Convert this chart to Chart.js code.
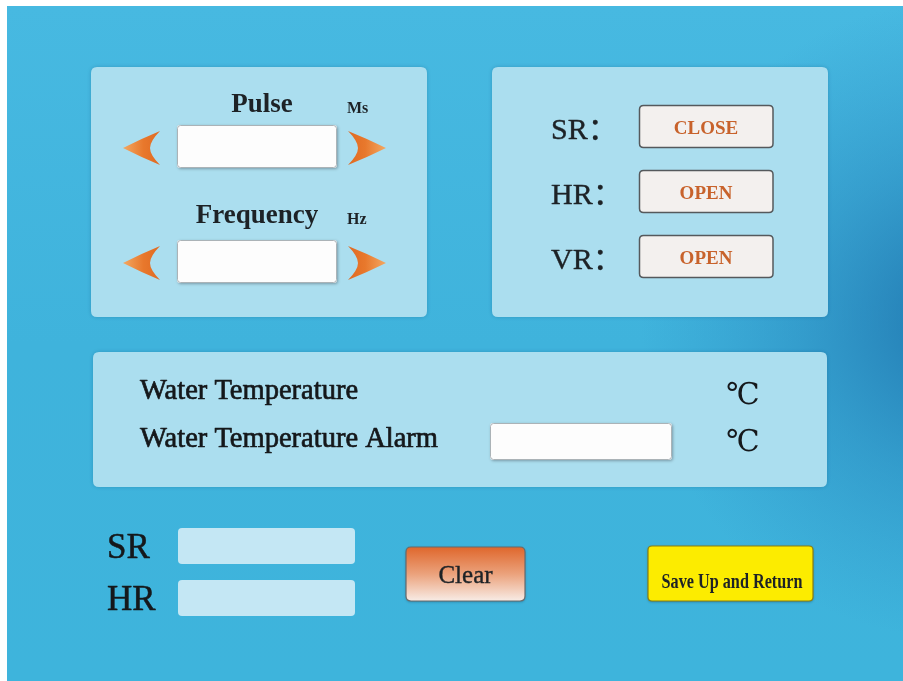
<!DOCTYPE html>
<html>
<head>
<meta charset="utf-8">
<script src="https://cdn.jsdelivr.net/npm/chart.js@4/dist/chart.umd.min.js"></script>
<style>
html,body{margin:0;padding:0;background:#fff;overflow:hidden;}
canvas{display:block;}
</style>
</head>
<body>
<canvas id="c" width="903" height="681"></canvas>
<script>
// ---- content (text only) ----
const pulseLabels = ['Pulse', 'Frequency'];
const pulseUnits = ['Ms', 'Hz'];
const switchNames = ['SR：', 'HR：', 'VR：'];
const switchStates = ['CLOSE', 'OPEN', 'OPEN'];
const tempLabels = ['Water Temperature', 'Water Temperature Alarm'];
const tempUnits = ['℃', '℃'];
const readoutLabels = ['SR', 'HR'];
const actionLabels = ['Clear', 'Save Up and Return'];

const SERIF = "'Liberation Serif','Times New Roman','Noto Sans CJK SC',serif";

function rr(ctx, x, y, w, h, r) {
  ctx.beginPath();
  ctx.moveTo(x + r, y);
  ctx.lineTo(x + w - r, y);
  ctx.quadraticCurveTo(x + w, y, x + w, y + r);
  ctx.lineTo(x + w, y + h - r);
  ctx.quadraticCurveTo(x + w, y + h, x + w - r, y + h);
  ctx.lineTo(x + r, y + h);
  ctx.quadraticCurveTo(x, y + h, x, y + h - r);
  ctx.lineTo(x, y + r);
  ctx.quadraticCurveTo(x, y, x + r, y);
  ctx.closePath();
}

function heavyText(ctx, txt, x, y, lw, maxW) {
  if (maxW) ctx.fillText(txt, x, y, maxW); else ctx.fillText(txt, x, y);
  ctx.lineWidth = lw;
  ctx.strokeStyle = ctx.fillStyle;
  ctx.lineJoin = 'round';
  if (maxW) ctx.strokeText(txt, x, y, maxW); else ctx.strokeText(txt, x, y);
}

const uiPlugin = {
  id: 'panelUI',
  beforeDraw(chart) {
    const ctx = chart.ctx;
    const sx = chart.scales.x, sy = chart.scales.y;
    const X = v => sx.getPixelForValue(v);
    const Y = v => sy.getPixelForValue(v);
    ctx.save();

    // page background
    ctx.fillStyle = '#ffffff';
    ctx.fillRect(0, 0, chart.width, chart.height);
    const bx = X(7), by = Y(6), bw = X(903) - X(7), bh = Y(681) - Y(6);
    let g = ctx.createLinearGradient(0, by, 0, by + bh);
    g.addColorStop(0, '#47b9e1');
    g.addColorStop(0.5, '#3fb3dc');
    g.addColorStop(1, '#3eb4dc');
    ctx.fillStyle = g;
    ctx.fillRect(bx, by, bw, bh);
    let rg = ctx.createRadialGradient(X(960), Y(320), 0, X(960), Y(320), 320);
    rg.addColorStop(0, 'rgba(25,105,165,0.8)');
    rg.addColorStop(0.5, 'rgba(30,115,175,0.35)');
    rg.addColorStop(1, 'rgba(40,130,190,0)');
    ctx.fillStyle = rg;
    ctx.fillRect(bx, by, bw, bh);

    // panels
    function panel(x0, y0, x1, y1) {
      ctx.save();
      ctx.shadowColor = 'rgba(0,60,100,0.25)';
      ctx.shadowBlur = 4;
      ctx.fillStyle = '#abdeef';
      rr(ctx, X(x0), Y(y0), X(x1) - X(x0), Y(y1) - Y(y0), 6);
      ctx.fill();
      ctx.restore();
    }
    panel(91, 67, 427, 317);
    panel(492, 67, 828, 317);
    panel(93, 352, 827, 487);

    // white input box
    function inputBox(x0, y0, x1, y1) {
      ctx.save();
      ctx.shadowColor = 'rgba(60,70,80,0.45)';
      ctx.shadowBlur = 3;
      ctx.shadowOffsetX = 1;
      ctx.shadowOffsetY = 1;
      ctx.fillStyle = '#fdfdfd';
      rr(ctx, X(x0), Y(y0), X(x1) - X(x0), Y(y1) - Y(y0), 3);
      ctx.fill();
      ctx.restore();
      ctx.strokeStyle = 'rgba(150,160,165,0.8)';
      ctx.lineWidth = 1;
      rr(ctx, X(x0) + 0.5, Y(y0) + 0.5, X(x1) - X(x0) - 1, Y(y1) - Y(y0) - 1, 3);
      ctx.stroke();
    }

    function arrow(tipX, midY, backX, half, dir) {
      const notch = backX - dir * 10;
      const gr = ctx.createLinearGradient(X(tipX), 0, X(backX), 0);
      gr.addColorStop(0, '#f3a862');
      gr.addColorStop(0.55, '#e8782c');
      gr.addColorStop(1, '#e06a22');
      ctx.fillStyle = gr;
      ctx.beginPath();
      ctx.moveTo(X(tipX), Y(midY));
      ctx.quadraticCurveTo(X((tipX + backX) / 2), Y(midY - half * 0.55), X(backX), Y(midY - half));
      ctx.quadraticCurveTo(X(notch), Y(midY - half * 0.4), X(notch), Y(midY));
      ctx.quadraticCurveTo(X(notch), Y(midY + half * 0.4), X(backX), Y(midY + half));
      ctx.quadraticCurveTo(X((tipX + backX) / 2), Y(midY + half * 0.55), X(tipX), Y(midY));
      ctx.closePath();
      ctx.fill();
    }

    ctx.textBaseline = 'alphabetic';
    // Pulse / Frequency block
    const rowTop = [125, 240];
    const titleBase = [112, 223];
    const titleX = [262, 257];
    for (let i = 0; i < pulseLabels.length; i++) {
      ctx.fillStyle = '#1d2226';
      ctx.font = 'bold 27px ' + SERIF;
      ctx.textAlign = 'center';
      ctx.fillText(pulseLabels[i], X(titleX[i]), Y(titleBase[i]));
      ctx.font = 'bold 16px ' + SERIF;
      ctx.textAlign = 'left';
      ctx.fillText(pulseUnits[i], X(347), Y(titleBase[i] + 1));
      inputBox(177, rowTop[i], 337, rowTop[i] + 43);
      const mid = rowTop[i] + 23;
      arrow(123, mid, 160, 17, 1);
      arrow(386, mid, 348, 17, -1);
    }

    // SR / HR / VR switches
    const swTop = [105, 170, 235];
    const swBase = [139, 204, 269];
    for (let i = 0; i < switchNames.length; i++) {
      ctx.fillStyle = '#1d2226';
      ctx.font = '30px ' + SERIF;
      ctx.textAlign = 'left';
      heavyText(ctx, switchNames[i], X(551), Y(swBase[i]), 0.4);
      ctx.fillStyle = '#f3f0ee';
      rr(ctx, X(639.5), Y(swTop[i]) + 0.5, X(773) - X(639.5), Y(swTop[i] + 42) - Y(swTop[i]), 4);
      ctx.fill();
      ctx.strokeStyle = '#55595c';
      ctx.lineWidth = 1.5;
      ctx.stroke();
      ctx.fillStyle = '#c8622b';
      ctx.font = 'bold 19px ' + SERIF;
      ctx.textAlign = 'center';
      ctx.fillText(switchStates[i], X(706), Y(swBase[i] - 5));
    }

    // water temperature
    const tBase = [399, 447];
    const uBase = [404, 451];
    for (let i = 0; i < tempLabels.length; i++) {
      ctx.fillStyle = '#15181b';
      ctx.font = '28.5px ' + SERIF;
      ctx.textAlign = 'left';
      heavyText(ctx, tempLabels[i], X(140), Y(tBase[i]), 0.7);
      ctx.font = "30px 'DejaVu Serif','Noto Sans CJK SC',serif";
      ctx.textAlign = 'center';
      ctx.fillText(tempUnits[i], X(743), Y(uBase[i]));
    }
    inputBox(490, 423, 672, 460);

    // bottom readouts
    const roTop = [528, 580];
    const roBase = [558, 610];
    for (let i = 0; i < readoutLabels.length; i++) {
      ctx.fillStyle = '#15181b';
      ctx.font = '35px ' + SERIF;
      ctx.textAlign = 'left';
      heavyText(ctx, readoutLabels[i], X(107), Y(roBase[i]), 0.5);
      ctx.fillStyle = '#c4e7f4';
      rr(ctx, X(178), Y(roTop[i]), X(355) - X(178), Y(roTop[i] + 36) - Y(roTop[i]), 4);
      ctx.fill();
    }

    // Clear button
    let cg = ctx.createLinearGradient(0, Y(547), 0, Y(601));
    cg.addColorStop(0, '#df672c');
    cg.addColorStop(0.5, '#eba27c');
    cg.addColorStop(1, '#f8ece6');
    ctx.save();
    ctx.shadowColor = 'rgba(0,40,70,0.35)';
    ctx.shadowBlur = 3;
    ctx.shadowOffsetY = 1;
    ctx.fillStyle = cg;
    rr(ctx, X(406), Y(547), X(525) - X(406), Y(601) - Y(547), 5);
    ctx.fill();
    ctx.restore();
    ctx.strokeStyle = '#6a6a6a';
    ctx.lineWidth = 1.2;
    rr(ctx, X(406), Y(547), X(525) - X(406), Y(601) - Y(547), 5);
    ctx.stroke();
    ctx.fillStyle = '#1d2226';
    ctx.font = '25px ' + SERIF;
    ctx.textAlign = 'center';
    heavyText(ctx, actionLabels[0], X(465.5), Y(583), 0.4);

    // Save button
    ctx.save();
    ctx.shadowColor = 'rgba(0,40,70,0.4)';
    ctx.shadowBlur = 3;
    ctx.shadowOffsetY = 1;
    ctx.fillStyle = '#fcec00';
    rr(ctx, X(648), Y(546), X(813) - X(648), Y(601) - Y(546), 4);
    ctx.fill();
    ctx.restore();
    ctx.strokeStyle = '#8c7f10';
    ctx.lineWidth = 1.2;
    rr(ctx, X(648), Y(546), X(813) - X(648), Y(601) - Y(546), 4);
    ctx.stroke();
    ctx.fillStyle = '#1d2226';
    ctx.font = 'bold 22px ' + SERIF;
    ctx.textAlign = 'center';
    ctx.fillText(actionLabels[1], X(732), Y(588), 141);

    ctx.restore();
  }
};

new Chart(document.getElementById('c'), {
  type: 'scatter',
  data: { datasets: [] },
  options: {
    responsive: false,
    animation: false,
    devicePixelRatio: 1,
    layout: { padding: 0 },
    plugins: { legend: { display: false }, tooltip: { enabled: false }, title: { display: false } },
    scales: {
      x: { type: 'linear', min: 0, max: 903, display: false },
      y: { type: 'linear', min: 0, max: 681, reverse: true, display: false }
    }
  },
  plugins: [uiPlugin]
});
</script>
</body>
</html>
